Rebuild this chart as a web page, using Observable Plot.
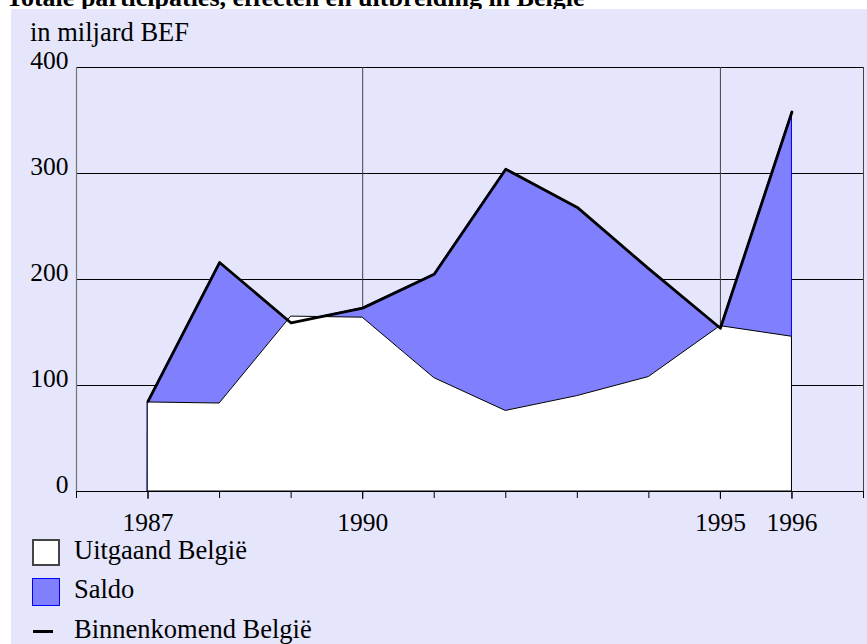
<!DOCTYPE html>
<html>
<head>
<meta charset="utf-8">
<script src="https://cdn.jsdelivr.net/npm/d3@7"></script>
<script src="https://cdn.jsdelivr.net/npm/@observablehq/plot@0.6"></script>
<style>
  html, body { margin: 0; padding: 0; background: #ffffff; }
  body { width: 867px; height: 644px; position: relative; overflow: hidden; font-family: "Liberation Serif", "Times New Roman", serif; color: #000; }
  #title { position: absolute; left: 6px; top: -15px; font-size: 26px; line-height: 26px; font-weight: bold; white-space: nowrap; }
  #panel { position: absolute; left: 11px; top: 9px; width: 856px; height: 635px; background: #e5e5fb; }
  #unit { position: absolute; left: 30px; top: 19px; font-size: 26.5px; line-height: 26px; white-space: nowrap; }
  #chart { position: absolute; left: 0; top: 0; }
  .leg { position: absolute; left: 74px; font-size: 26.5px; line-height: 26px; white-space: nowrap; }
  .sw { position: absolute; box-sizing: border-box; }
</style>
</head>
<body>
<div id="title">Totale participaties, effecten en uitbreiding in België</div>
<div id="panel"></div>
<div id="unit">in miljard BEF</div>
<div id="chart"></div>
<div class="sw" style="left:32px;top:539px;width:28px;height:27px;background:#fff;border:2px solid #444;"></div>
<div class="leg" style="top:537px;">Uitgaand België</div>
<div class="sw" style="left:32px;top:578px;width:28px;height:28px;background:#8080ff;border:1.5px solid #0000ff;"></div>
<div class="leg" style="top:576px;">Saldo</div>
<div class="sw" style="left:33px;top:630px;width:20px;height:3px;background:#000;"></div>
<div class="leg" style="top:616px;">Binnenkomend België</div>
<script>
const years = [1987, 1988, 1989, 1990, 1991, 1992, 1993, 1994, 1995, 1996];
const binnenkomend = [85, 216, 159, 173, 205, 304, 268, 210, 154, 358];
const uitgaand = [84, 83, 165, 164, 107, 76, 90, 108, 156, 146];
const tickYears = [1986, 1987, 1988, 1989, 1990, 1991, 1992, 1993, 1994, 1995, 1996, 1997];
const labelYears = [1987, 1990, 1995, 1996];
const yTicks = [0, 100, 200, 300, 400];

const data = years.map((year, i) => ({year, binnen: binnenkomend[i], uit: uitgaand[i]}));

const chart = Plot.plot({
  width: 867,
  height: 540,
  marginLeft: 76,
  marginRight: 4,
  marginTop: 67,
  marginBottom: 49,
  style: {background: "transparent", fontFamily: "Liberation Serif, Times New Roman, serif", color: "#000", overflow: "visible"},
  x: {domain: [1986, 1997]},
  y: {domain: [0, 400]},
  marks: [
    Plot.gridY([100, 200, 300, 400], {stroke: "#000", strokeOpacity: 1}),
    Plot.gridX([1990, 1995], {stroke: "#444", strokeOpacity: 1}),
    Plot.ruleX([1997], {stroke: "#444"}),
    Plot.ruleX([1986], {stroke: "#777", strokeWidth: 1.2}),
    Plot.areaY(data, {x: "year", y: "binnen", fill: "#8080ff", stroke: "#0000ff", strokeWidth: 1}),
    Plot.areaY(data, {x: "year", y: "uit", fill: "#ffffff", stroke: "#000", strokeWidth: 1}),
    Plot.line(data, {x: "year", y: "binnen", stroke: "#000", strokeWidth: 2.8}),
    Plot.ruleY([0], {stroke: "#000", strokeWidth: 1.2}),
    Plot.axisX({ticks: tickYears, tickSize: 7, tickFormat: () => "", label: null, stroke: "#000"}),
    Plot.axisX({ticks: labelYears, tickSize: 8, tickPadding: 13, tickFormat: d => String(d), label: null, fontSize: 25.5, stroke: "#000", fill: "#000"}),
    Plot.axisY({ticks: yTicks, tickSize: 0, tickPadding: 8, lineAnchor: "bottom", dy: 1, label: null, fontSize: 25.5, fill: "#000"})
  ]
});
document.getElementById("chart").appendChild(chart);
</script>
</body>
</html>
